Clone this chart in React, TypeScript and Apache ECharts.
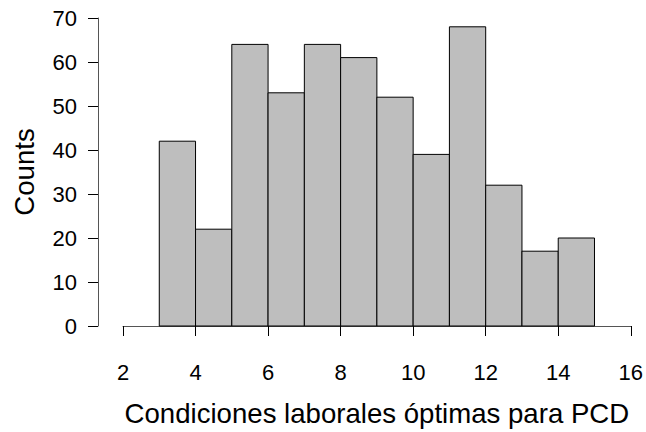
import React, { useEffect, useRef } from "react";
import * as echarts from "echarts";

const binStarts = [3, 4, 5, 6, 7, 8, 9, 10, 11, 12, 13, 14];
const binEnds = [4, 5, 6, 7, 8, 9, 10, 11, 12, 13, 14, 15];
const counts = [42, 22, 64, 53, 64, 61, 52, 39, 68, 32, 17, 20];
const xTicks = [2, 4, 6, 8, 10, 12, 14, 16];
const yTicks = [0, 10, 20, 30, 40, 50, 60, 70];

export default function App() {
  const ref = useRef<HTMLDivElement>(null);
  useEffect(() => {
    if (!ref.current) return;
    const chart = echarts.init(ref.current, null, { renderer: "svg" });
    const font = "'Liberation Sans', Arial, sans-serif";
    const data = binStarts.map((s, i) => [s, binEnds[i], counts[i]]);
    chart.setOption({
      animation: false,
      backgroundColor: "#ffffff",
      grid: { left: 123, right: 15, top: 18, bottom: 106, containLabel: false },
      xAxis: {
        type: "value",
        min: xTicks[0],
        max: xTicks[xTicks.length - 1],
        interval: 2,
        offset: 16,
        name: "Condiciones laborales óptimas para PCD",
        nameLocation: "middle",
        nameGap: 57,
        nameTextStyle: { fontFamily: font, fontSize: 27.6, color: "#000" },
        axisLine: { show: true, lineStyle: { color: "#555", width: 1 } },
        axisTick: { show: true, inside: false, length: 10, lineStyle: { color: "#000" } },
        axisLabel: { fontFamily: font, fontSize: 22, color: "#000", margin: 19 },
        splitLine: { show: false },
      },
      yAxis: {
        type: "value",
        min: yTicks[0],
        max: yTicks[yTicks.length - 1],
        interval: 10,
        offset: 25,
        name: "Counts",
        nameLocation: "middle",
        nameGap: 60,
        nameRotate: 90,
        nameTextStyle: { fontFamily: font, fontSize: 27.6, color: "#000" },
        axisLine: { show: true, lineStyle: { color: "#555", width: 1 } },
        axisTick: { show: true, length: 10, lineStyle: { color: "#000" } },
        axisLabel: { fontFamily: font, fontSize: 22, color: "#000", margin: 21 },
        splitLine: { show: false },
      },
      series: [
        {
          type: "custom",
          data,
          encode: { x: [0, 1], y: 2 },
          renderItem: (params: any, api: any) => {
            const p0 = api.coord([api.value(0), 0]);
            const p1 = api.coord([api.value(1), api.value(2)]);
            return {
              type: "rect",
              shape: { x: p0[0], y: p1[1], width: p1[0] - p0[0], height: p0[1] - p1[1] },
              style: { fill: "#bebebe", stroke: "#000", lineWidth: 1 },
            };
          },
        },
      ],
    });
    return () => chart.dispose();
  }, []);
  return <div ref={ref} style={{ width: 646, height: 432, position: "absolute", left: 0, top: 0 }} />;
}
